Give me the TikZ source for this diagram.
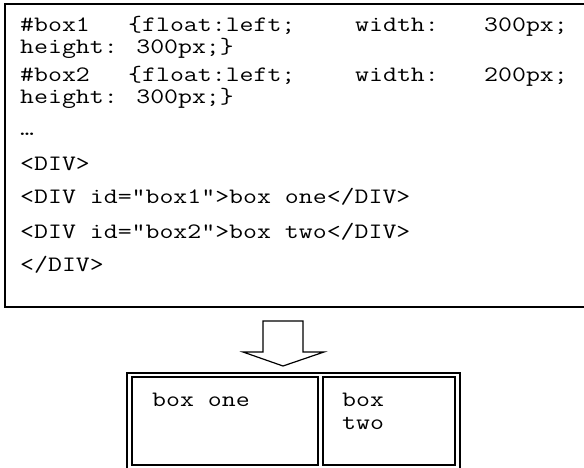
\documentclass[tikz,border=0pt]{standalone}
\usepackage{fontspec}
\newfontfamily\cmono[FakeStretch=1.23]{Latin Modern Mono}
\tikzset{
  code/.style={anchor=base west, inner sep=0pt, font=\cmono\fontsize{22pt}{24pt}\selectfont},
  frame/.style={draw=black, line width=1.6pt},
  thin/.style={draw=black, line width=1.2pt}
}
\begin{document}
\begin{tikzpicture}[x=1pt,y=-1pt]
\useasboundingbox (0,0) rectangle (584,468);
\fill[white] (0,0) rectangle (584,468);
\begin{scope}
\clip (0,0) rectangle (584,468);
\draw[frame] (5,4) rectangle (600,307);
% word-justified first lines
\node[code] (a1) at (20,32) {\#box1};
\node[code] (a2) at (128,32) {\{float:left;};
\node[code] (a3) at (355,32) {width:};
\node[code] (a4) at (484,32) {300px;};
\node[code] (b1) at (20,54) {height: 300px;\}};
\node[code] (c1) at (20,82) {\#box2};
\node[code] (c2) at (128,82) {\{float:left;};
\node[code] (c3) at (355,82) {width:};
\node[code] (c4) at (484,82) {200px;};
\node[code] (d1) at (20,104) {height: 300px;\}};
\node[code] (e1) at (20,136) {…};
\node[code] (f1) at (20,171) {<DIV>};
\node[code] (g1) at (20,204) {<DIV id=”box1”>box one</DIV>};
\node[code] (h1) at (20,238) {<DIV id=”box2”>box two</DIV>};
\node[code] (i1) at (20,271) {</DIV>};
% block arrow
\draw[thin, line join=miter] (263,321) -- (303,321) -- (303,352) -- (324,352) -- (283,366) -- (243,352) -- (263,352) -- cycle;
% result container
\draw[frame] (127,373) rectangle (460,480);
\draw[thin] (132,377) rectangle (318,465);
\draw[thin] (323,377) rectangle (455,465);
\node[code] (bo) at (152,406) {box one};
\node[code] (bt1) at (342,406) {box};
\node[code] (bt2) at (342,429) {two};
\end{scope}
\end{tikzpicture}
\end{document}
